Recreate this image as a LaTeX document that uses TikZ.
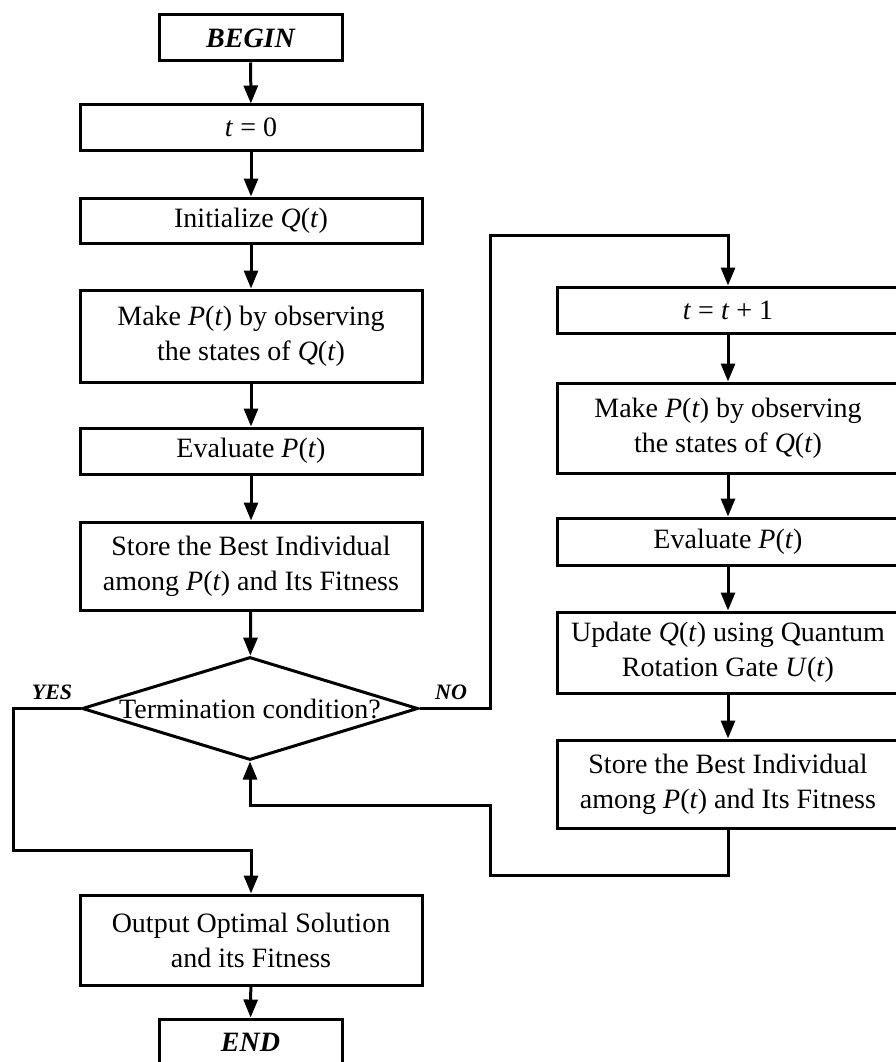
\documentclass[tikz,border=0pt]{standalone}
\usepackage{fontspec}
\setmainfont{Liberation Serif}
\usetikzlibrary{arrows.meta,shapes.geometric}
\begin{document}
\begin{tikzpicture}[x=1pt,y=-1pt,
  box/.style={draw=black,line width=3pt,rectangle,minimum width=342pt,inner sep=0pt,align=center,
    font=\fontsize{28}{35}\selectfont},
  term/.style={box,minimum width=183pt,font=\fontsize{28}{35}\selectfont\bfseries\itshape},
  arr/.style={line width=3pt,-{Triangle[length=18pt,width=14pt]}},
  lin/.style={line width=3pt},
  lbl/.style={font=\fontsize{22}{26}\selectfont\bfseries\itshape,inner sep=0pt}]
\useasboundingbox (0,0) rectangle (896,1062);
\fill[white] (0,0) rectangle (896,1062);
% left column
\node[term,minimum height=46pt] (begin) at (250.5,38) {BEGIN};
\node[box,minimum height=45pt] (t0) at (251,127.5) {\textit{t} = 0};
\node[box,minimum height=45pt] (init) at (251,220.5) {Initialize \textit{Q}(\textit{t})};
\node[box,minimum height=92pt] (make1) at (251,336) {Make \textit{P}(\textit{t}) by observing\\the states of \textit{Q}(\textit{t})};
\node[box,minimum height=46pt] (eval1) at (251,451) {Evaluate \textit{P}(\textit{t})};
\node[box,minimum height=88pt] (store1) at (251,566) {Store the Best Individual\\among \textit{P}(\textit{t}) and Its Fitness};
\node[draw=black,line width=3pt,diamond,minimum width=336pt,minimum height=103pt,inner sep=0pt] (cond) at (250,708.5) {};
\node[font=\fontsize{28}{35}\selectfont,inner sep=0pt] (condtxt) at (cond.center) {Termination condition?};
\node[box,minimum height=90pt] (out) at (251,940) {Output Optimal Solution\\and its Fitness};
\node[term,minimum height=46pt] (end) at (250.5,1042) {END};
% right column
\node[box,minimum height=46pt] (tp1) at (728,310) {\textit{t} = \textit{t} + 1};
\node[box,minimum height=90pt] (make2) at (728,428) {Make \textit{P}(\textit{t}) by observing\\the states of \textit{Q}(\textit{t})};
\node[box,minimum height=47pt] (eval2) at (728,541.5) {Evaluate \textit{P}(\textit{t})};
\node[box,minimum height=81pt] (upd) at (728,652.5) {Update \textit{Q}(\textit{t}) using Quantum\\Rotation Gate \textit{U}(\textit{t})};
\node[box,minimum height=88pt] (store2) at (728,784) {Store the Best Individual\\among \textit{P}(\textit{t}) and Its Fitness};
% labels
\node[lbl] (yes) at (52,692) {YES};
\node[lbl] (no) at (451,692) {NO};
% coordinates
\coordinate (y1) at (13,850);
\coordinate (n1) at (490,235);
\coordinate (r1) at (490,875);
\coordinate (r2) at (490,805);
% arrows
\draw[arr] (begin) -- (t0);
\draw[arr] (t0) -- (init);
\draw[arr] (init) -- (make1);
\draw[arr] (make1) -- (eval1);
\draw[arr] (eval1) -- (store1);
\draw[arr] (store1) -- (cond);
\draw[arr] (out) -- (end);
\draw[arr] (tp1) -- (make2);
\draw[arr] (make2) -- (eval2);
\draw[arr] (eval2) -- (upd);
\draw[arr] (upd) -- (store2);
\draw[arr] (cond.west) -| (y1) -| (out.north);
\draw[arr] (cond.east) -| (n1) -| (tp1.north);
\draw[arr] (store2.south) |- (r1) -- (r2) -| (cond.south);
\end{tikzpicture}
\end{document}
